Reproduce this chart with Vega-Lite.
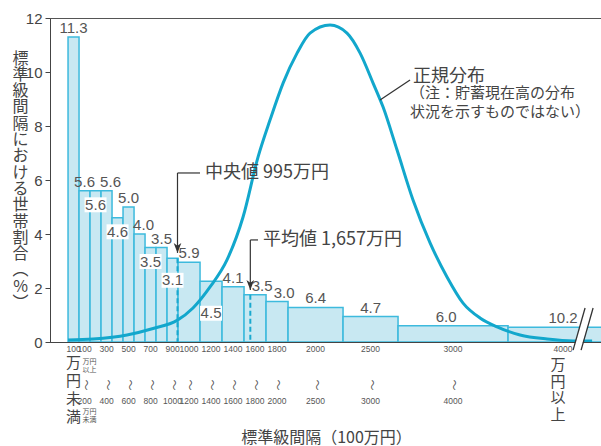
{
  "$schema": "https://vega.github.io/schema/vega-lite/v6.json",
  "width": 552,
  "height": 324,
  "autosize": {"type": "none"},
  "padding": {"left": 50, "top": 18, "right": 0, "bottom": 104},
  "background": "white",
  "config": {
    "view": {"stroke": "#555", "strokeWidth": 1},
    "axisX": {"labels": false, "ticks": false, "grid": false, "domainColor": "#444", "domainWidth": 1.2, "zindex": 1,
      "titleFont": "Noto Sans CJK JP", "titleFontSize": 16, "titleFontWeight": "normal", "titleColor": "#444", "titleY": 95, "titleBaseline": "middle"},
    "axisY": {"grid": false, "domainColor": "#444", "tickColor": "#444", "tickSize": 5, "labelPadding": 3,
      "labelFont": "Liberation Sans", "labelFontSize": 15, "labelColor": "#444",
      "titleFont": "Noto Sans CJK JP", "titleFontSize": 16, "titleFontWeight": "normal", "titleColor": "#444",
      "titleAngle": 0, "titleX": -30, "titleY": 40, "titleAlign": "center", "titleBaseline": "middle", "titleLineHeight": 16.3}
  },
  "datasets": {
    "bars": [
      {"lo": 0, "hi": 100, "h": 11.3, "pct": "11.3", "top": "100", "bot": ""},
      {"lo": 100, "hi": 200, "h": 5.6, "pct": "5.6", "top": "100", "bot": "200"},
      {"lo": 200, "hi": 300, "h": 5.6, "pct": "5.6", "top": "", "bot": ""},
      {"lo": 300, "hi": 400, "h": 5.6, "pct": "5.6", "top": "300", "bot": "400"},
      {"lo": 400, "hi": 500, "h": 4.6, "pct": "4.6", "top": "", "bot": ""},
      {"lo": 500, "hi": 600, "h": 5.0, "pct": "5.0", "top": "500", "bot": "600"},
      {"lo": 600, "hi": 700, "h": 4.0, "pct": "4.0", "top": "", "bot": ""},
      {"lo": 700, "hi": 800, "h": 3.5, "pct": "3.5", "top": "700", "bot": "800"},
      {"lo": 800, "hi": 900, "h": 3.5, "pct": "3.5", "top": "", "bot": ""},
      {"lo": 900, "hi": 1000, "h": 3.1, "pct": "3.1", "top": "900", "bot": "1000"},
      {"lo": 1000, "hi": 1200, "h": 2.95, "pct": "5.9", "top": "1000", "bot": "1200"},
      {"lo": 1200, "hi": 1400, "h": 2.25, "pct": "4.5", "top": "1200", "bot": "1400"},
      {"lo": 1400, "hi": 1600, "h": 2.05, "pct": "4.1", "top": "1400", "bot": "1600"},
      {"lo": 1600, "hi": 1800, "h": 1.75, "pct": "3.5", "top": "1600", "bot": "1800"},
      {"lo": 1800, "hi": 2000, "h": 1.5, "pct": "3.0", "top": "1800", "bot": "2000"},
      {"lo": 2000, "hi": 2500, "h": 1.28, "pct": "6.4", "top": "2000", "bot": "2500"},
      {"lo": 2500, "hi": 3000, "h": 0.94, "pct": "4.7", "top": "2500", "bot": "3000"},
      {"lo": 3000, "hi": 4000, "h": 0.6, "pct": "6.0", "top": "3000", "bot": "4000"},
      {"lo": 4000, "hi": 5000, "h": 0.55, "pct": "10.2", "top": "4000", "bot": ""}
    ],
    "curve": [
      {"x": 0, "y": 0.07}, {"x": 227, "y": 0.11}, {"x": 536, "y": 0.26}, {"x": 773, "y": 0.5},
      {"x": 991, "y": 0.8}, {"x": 1136, "y": 1.26}, {"x": 1291, "y": 2.04}, {"x": 1445, "y": 3.04},
      {"x": 1591, "y": 4.63}, {"x": 1727, "y": 6.85}, {"x": 1836, "y": 8.22}, {"x": 1955, "y": 9.59},
      {"x": 2082, "y": 10.7}, {"x": 2200, "y": 11.44}, {"x": 2382, "y": 11.74}, {"x": 2536, "y": 11.44},
      {"x": 2655, "y": 10.7}, {"x": 2773, "y": 9.59}, {"x": 2864, "y": 8.7}, {"x": 2991, "y": 7.11},
      {"x": 3136, "y": 5.26}, {"x": 3291, "y": 3.67}, {"x": 3445, "y": 2.41}, {"x": 3591, "y": 1.44},
      {"x": 3745, "y": 0.89}, {"x": 3900, "y": 0.56}, {"x": 4109, "y": 0.26}, {"x": 4355, "y": 0.11},
      {"x": 4591, "y": 0.04}, {"x": 4764, "y": 0.04}
    ],
    "ann": [
      {"v": 995, "top": 3.1, "tip": 3.3, "ly": 6.26, "tx": 1200, "label": "中央値 995万円"},
      {"v": 1657, "top": 1.75, "tip": 1.93, "ly": 3.78, "tx": 1727, "label": "平均値 1,657万円"}
    ],
    "norm": [
      {"x1": 2836, "y1": 8.96, "x2": 3109, "y2": 9.7, "ty": 9.81, "ny": 9.22, "t": "正規分布", "note": "（注：貯蓄現在高の分布\n状況を示すものではない）"}
    ],
    "brk": [
      {"k": "band", "x": 4627, "y": -0.3, "x2": 4736, "y2": 1.26},
      {"k": "a", "x": 4591, "y": -0.3, "x2": 4700, "y2": 1.26},
      {"k": "b", "x": 4664, "y": -0.3, "x2": 4773, "y2": 1.26}
    ]
  },
  "layer": [
    {
      "data": {"name": "bars"},
      "mark": {"type": "rect", "fill": "#c8e8f2", "stroke": "#3dbadd", "strokeWidth": 1.5, "clip": true},
      "encoding": {
        "x": {"field": "lo", "type": "quantitative", "scale": {"domain": [-164, 4854], "nice": false, "zero": false},
          "axis": {"title": "標準級間隔（100万円）"}},
        "x2": {"field": "hi"},
        "y": {"field": "h", "type": "quantitative", "scale": {"domain": [0, 12], "nice": false},
          "axis": {"values": [0, 2, 4, 6, 8, 10, 12],
            "title": ["標", "準", "級", "間", "隔", "に", "お", "け", "る", "世", "帯", "割", "合", "︵", "%", "︶"]}},
        "y2": {"datum": 0}
      }
    },
    {
      "data": {"name": "curve"},
      "mark": {"type": "line", "interpolate": "monotone", "stroke": "#12a7cc", "strokeWidth": 3, "clip": true},
      "encoding": {
        "x": {"field": "x", "type": "quantitative"},
        "y": {"field": "y", "type": "quantitative"}
      }
    },
    {
      "data": {"name": "ann"},
      "mark": {"type": "rule", "stroke": "#1aa9cf", "strokeWidth": 2, "strokeDash": [5, 3]},
      "encoding": {
        "x": {"field": "v", "type": "quantitative"},
        "y": {"field": "top", "type": "quantitative"},
        "y2": {"datum": 0}
      }
    },
    {
      "data": {"name": "ann"},
      "mark": {"type": "rule", "stroke": "#333", "strokeWidth": 1.2},
      "encoding": {
        "x": {"field": "v", "type": "quantitative"},
        "y": {"field": "tip", "type": "quantitative"},
        "y2": {"field": "ly"}
      }
    },
    {
      "data": {"name": "ann"},
      "mark": {"type": "rule", "stroke": "#333", "strokeWidth": 1.2},
      "encoding": {
        "x": {"field": "v", "type": "quantitative"},
        "x2": {"field": "tx"},
        "y": {"field": "ly", "type": "quantitative"}
      }
    },
    {
      "data": {"name": "ann"},
      "mark": {"type": "point", "shape": "M0,0L-0.7,-1.8L0,-1.3L0.7,-1.8Z", "size": 120, "filled": true, "color": "#333", "opacity": 1, "strokeWidth": 0},
      "encoding": {
        "x": {"field": "v", "type": "quantitative"},
        "y": {"field": "tip", "type": "quantitative"}
      }
    },
    {
      "data": {"name": "ann"},
      "mark": {"type": "text", "align": "left", "baseline": "middle", "dx": 5, "font": "Noto Sans CJK JP", "fontSize": 18, "color": "#444"},
      "encoding": {
        "x": {"field": "tx", "type": "quantitative"},
        "y": {"field": "ly", "type": "quantitative"},
        "text": {"field": "label"}
      }
    },
    {
      "data": {"name": "norm"},
      "mark": {"type": "rule", "stroke": "#333", "strokeWidth": 1.2},
      "encoding": {
        "x": {"field": "x1", "type": "quantitative"},
        "x2": {"field": "x2"},
        "y": {"field": "y1", "type": "quantitative"},
        "y2": {"field": "y2"}
      }
    },
    {
      "data": {"name": "norm"},
      "mark": {"type": "text", "align": "left", "baseline": "middle", "dx": 3, "font": "Noto Sans CJK JP", "fontSize": 18, "color": "#444"},
      "encoding": {
        "x": {"field": "x2", "type": "quantitative"},
        "y": {"field": "ty", "type": "quantitative"},
        "text": {"field": "t"}
      }
    },
    {
      "data": {"name": "norm"},
      "mark": {"type": "text", "align": "left", "baseline": "middle", "font": "Noto Sans CJK JP", "fontSize": 15, "lineHeight": 19, "lineBreak": "\n", "color": "#444"},
      "encoding": {
        "x": {"field": "x2", "type": "quantitative"},
        "y": {"field": "ny", "type": "quantitative"},
        "text": {"field": "note"}
      }
    },
    {
      "data": {"name": "bars"},
      "transform": [{"calculate": "(datum.lo + datum.hi) / 2", "as": "mid"}, {"filter": {"field": "lo", "oneOf": [0, 100, 500, 800, 1000, 1400, 2000, 2500, 4000]}}],
      "mark": {"type": "text", "baseline": "middle", "yOffset": -9, "font": "Liberation Sans", "fontSize": 15, "color": "#555"},
      "encoding": {
        "x": {"field": "mid", "type": "quantitative"},
        "y": {"field": "h", "type": "quantitative"},
        "text": {"field": "pct"}
      }
    },
    {
      "data": {"name": "bars"},
      "transform": [{"calculate": "(datum.lo + datum.hi) / 2", "as": "mid"}, {"filter": {"field": "lo", "oneOf": [300, 600]}}],
      "mark": {"type": "text", "baseline": "middle", "yOffset": -9, "xOffset": 4, "font": "Liberation Sans", "fontSize": 15, "color": "#555"},
      "encoding": {
        "x": {"field": "mid", "type": "quantitative"},
        "y": {"field": "h", "type": "quantitative"},
        "text": {"field": "pct"}
      }
    },
    {
      "data": {"name": "bars"},
      "transform": [{"calculate": "(datum.lo + datum.hi) / 2", "as": "mid"}, {"filter": {"field": "lo", "oneOf": [1600, 1800]}}],
      "mark": {"type": "text", "baseline": "middle", "yOffset": -9, "xOffset": 7, "font": "Liberation Sans", "fontSize": 15, "color": "#555"},
      "encoding": {
        "x": {"field": "mid", "type": "quantitative"},
        "y": {"field": "h", "type": "quantitative"},
        "text": {"field": "pct"}
      }
    },
    {
      "data": {"name": "bars"},
      "transform": [{"calculate": "(datum.lo + datum.hi) / 2", "as": "mid"}, {"filter": {"field": "lo", "oneOf": [3000]}}],
      "mark": {"type": "text", "baseline": "middle", "yOffset": -9, "xOffset": -7, "font": "Liberation Sans", "fontSize": 15, "color": "#555"},
      "encoding": {
        "x": {"field": "mid", "type": "quantitative"},
        "y": {"field": "h", "type": "quantitative"},
        "text": {"field": "pct"}
      }
    },
    {
      "data": {"name": "bars"},
      "transform": [{"calculate": "(datum.lo + datum.hi) / 2", "as": "mid"}, {"filter": {"field": "lo", "oneOf": [200, 400, 700]}}],
      "mark": {"type": "point", "shape": "M-1,-0.68L1,-0.68L1,0.68L-1,0.68Z", "size": 484, "filled": true, "color": "white", "opacity": 1, "strokeWidth": 0, "yOffset": 14},
      "encoding": {
        "x": {"field": "mid", "type": "quantitative"},
        "y": {"field": "h", "type": "quantitative"}
      }
    },
    {
      "data": {"name": "bars"},
      "transform": [{"calculate": "(datum.lo + datum.hi) / 2", "as": "mid"}, {"filter": {"field": "lo", "oneOf": [200, 400, 700]}}],
      "mark": {"type": "text", "baseline": "middle", "yOffset": 14, "font": "Liberation Sans", "fontSize": 15, "color": "#555"},
      "encoding": {
        "x": {"field": "mid", "type": "quantitative"},
        "y": {"field": "h", "type": "quantitative"},
        "text": {"field": "pct"}
      }
    },
    {
      "data": {"name": "bars"},
      "transform": [{"calculate": "(datum.lo + datum.hi) / 2", "as": "mid"}, {"filter": {"field": "lo", "oneOf": [900]}}],
      "mark": {"type": "point", "shape": "M-1,-0.68L1,-0.68L1,0.68L-1,0.68Z", "size": 484, "filled": true, "color": "white", "opacity": 1, "strokeWidth": 0, "yOffset": 22},
      "encoding": {
        "x": {"field": "mid", "type": "quantitative"},
        "y": {"field": "h", "type": "quantitative"}
      }
    },
    {
      "data": {"name": "bars"},
      "transform": [{"calculate": "(datum.lo + datum.hi) / 2", "as": "mid"}, {"filter": {"field": "lo", "oneOf": [900]}}],
      "mark": {"type": "text", "baseline": "middle", "yOffset": 22, "font": "Liberation Sans", "fontSize": 15, "color": "#555"},
      "encoding": {
        "x": {"field": "mid", "type": "quantitative"},
        "y": {"field": "h", "type": "quantitative"},
        "text": {"field": "pct"}
      }
    },
    {
      "data": {"name": "bars"},
      "transform": [{"calculate": "(datum.lo + datum.hi) / 2", "as": "mid"}, {"filter": {"field": "lo", "oneOf": [1200]}}],
      "mark": {"type": "point", "shape": "M-1,-0.68L1,-0.68L1,0.68L-1,0.68Z", "size": 484, "filled": true, "color": "white", "opacity": 1, "strokeWidth": 0, "yOffset": 32},
      "encoding": {
        "x": {"field": "mid", "type": "quantitative"},
        "y": {"field": "h", "type": "quantitative"}
      }
    },
    {
      "data": {"name": "bars"},
      "transform": [{"calculate": "(datum.lo + datum.hi) / 2", "as": "mid"}, {"filter": {"field": "lo", "oneOf": [1200]}}],
      "mark": {"type": "text", "baseline": "middle", "yOffset": 32, "font": "Liberation Sans", "fontSize": 15, "color": "#555"},
      "encoding": {
        "x": {"field": "mid", "type": "quantitative"},
        "y": {"field": "h", "type": "quantitative"},
        "text": {"field": "pct"}
      }
    },
    {
      "data": {"name": "brk"},
      "transform": [{"filter": "datum.k == 'band'"}],
      "mark": {"type": "rule", "stroke": "white", "strokeWidth": 7},
      "encoding": {
        "x": {"field": "x", "type": "quantitative"}, "x2": {"field": "x2"},
        "y": {"field": "y", "type": "quantitative"}, "y2": {"field": "y2"}
      }
    },
    {
      "data": {"name": "brk"},
      "transform": [{"filter": "datum.k != 'band'"}],
      "mark": {"type": "rule", "stroke": "#333", "strokeWidth": 1.3},
      "encoding": {
        "x": {"field": "x", "type": "quantitative"}, "x2": {"field": "x2"},
        "y": {"field": "y", "type": "quantitative"}, "y2": {"field": "y2"}
      }
    },
    {
      "data": {"name": "bars"},
      "transform": [{"calculate": "(datum.lo + datum.hi) / 2", "as": "mid"}, {"calculate": "0", "as": "base"}, {"filter": "datum.top != ''"}],
      "mark": {"type": "text", "baseline": "middle", "yOffset": 7, "font": "Liberation Sans", "fontSize": 8.5, "color": "#555"},
      "encoding": {
        "x": {"field": "mid", "type": "quantitative"},
        "y": {"field": "base", "type": "quantitative"},
        "text": {"field": "top"}
      }
    },
    {
      "data": {"name": "bars"},
      "transform": [{"calculate": "(datum.lo + datum.hi) / 2", "as": "mid"}, {"calculate": "0", "as": "base"}, {"filter": "datum.bot != ''"}],
      "mark": {"type": "text", "baseline": "middle", "yOffset": 59, "font": "Liberation Sans", "fontSize": 8.5, "color": "#555"},
      "encoding": {
        "x": {"field": "mid", "type": "quantitative"},
        "y": {"field": "base", "type": "quantitative"},
        "text": {"field": "bot"}
      }
    },
    {
      "data": {"name": "bars"},
      "transform": [{"calculate": "(datum.lo + datum.hi) / 2", "as": "mid"}, {"calculate": "0", "as": "base"}, {"filter": "datum.bot != ''"}],
      "mark": {"type": "text", "baseline": "middle", "align": "center", "angle": 90, "yOffset": 43, "font": "Noto Sans CJK JP", "fontSize": 11, "color": "#555"},
      "encoding": {
        "x": {"field": "mid", "type": "quantitative"},
        "y": {"field": "base", "type": "quantitative"},
        "text": {"value": "〜"}
      }
    },
    {
      "data": {"name": "bars"},
      "transform": [{"calculate": "(datum.lo + datum.hi) / 2", "as": "mid"}, {"calculate": "0", "as": "base"}, {"filter": "datum.lo == 0"}],
      "mark": {"type": "text", "baseline": "middle", "align": "center", "yOffset": 21, "lineBreak": "\n", "lineHeight": 18, "font": "Noto Sans CJK JP", "fontSize": 15, "color": "#444"},
      "encoding": {
        "x": {"field": "mid", "type": "quantitative"},
        "y": {"field": "base", "type": "quantitative"},
        "text": {"value": "万\n円\n未\n満"}
      }
    },
    {
      "data": {"name": "bars"},
      "transform": [{"calculate": "(datum.lo + datum.hi) / 2", "as": "mid"}, {"calculate": "0", "as": "base"}, {"filter": "datum.lo == 4000"}],
      "mark": {"type": "text", "baseline": "middle", "align": "center", "xOffset": -5, "yOffset": 23, "lineBreak": "\n", "lineHeight": 16.5, "font": "Noto Sans CJK JP", "fontSize": 15, "color": "#444"},
      "encoding": {
        "x": {"field": "mid", "type": "quantitative"},
        "y": {"field": "base", "type": "quantitative"},
        "text": {"value": "万\n円\n以\n上"}
      }
    },
    {
      "data": {"name": "bars"},
      "transform": [{"calculate": "(datum.lo + datum.hi) / 2", "as": "mid"}, {"calculate": "0", "as": "base"}, {"filter": "datum.lo == 100"}],
      "mark": {"type": "text", "baseline": "middle", "align": "center", "xOffset": 5, "yOffset": 20, "lineBreak": "\n", "lineHeight": 8, "font": "Noto Sans CJK JP", "fontSize": 7, "color": "#555"},
      "encoding": {
        "x": {"field": "mid", "type": "quantitative"},
        "y": {"field": "base", "type": "quantitative"},
        "text": {"value": "万円\n以上"}
      }
    },
    {
      "data": {"name": "bars"},
      "transform": [{"calculate": "(datum.lo + datum.hi) / 2", "as": "mid"}, {"calculate": "0", "as": "base"}, {"filter": "datum.lo == 100"}],
      "mark": {"type": "text", "baseline": "middle", "align": "center", "xOffset": 5, "yOffset": 70, "lineBreak": "\n", "lineHeight": 8, "font": "Noto Sans CJK JP", "fontSize": 7, "color": "#555"},
      "encoding": {
        "x": {"field": "mid", "type": "quantitative"},
        "y": {"field": "base", "type": "quantitative"},
        "text": {"value": "万円\n未満"}
      }
    }
  ]
}
